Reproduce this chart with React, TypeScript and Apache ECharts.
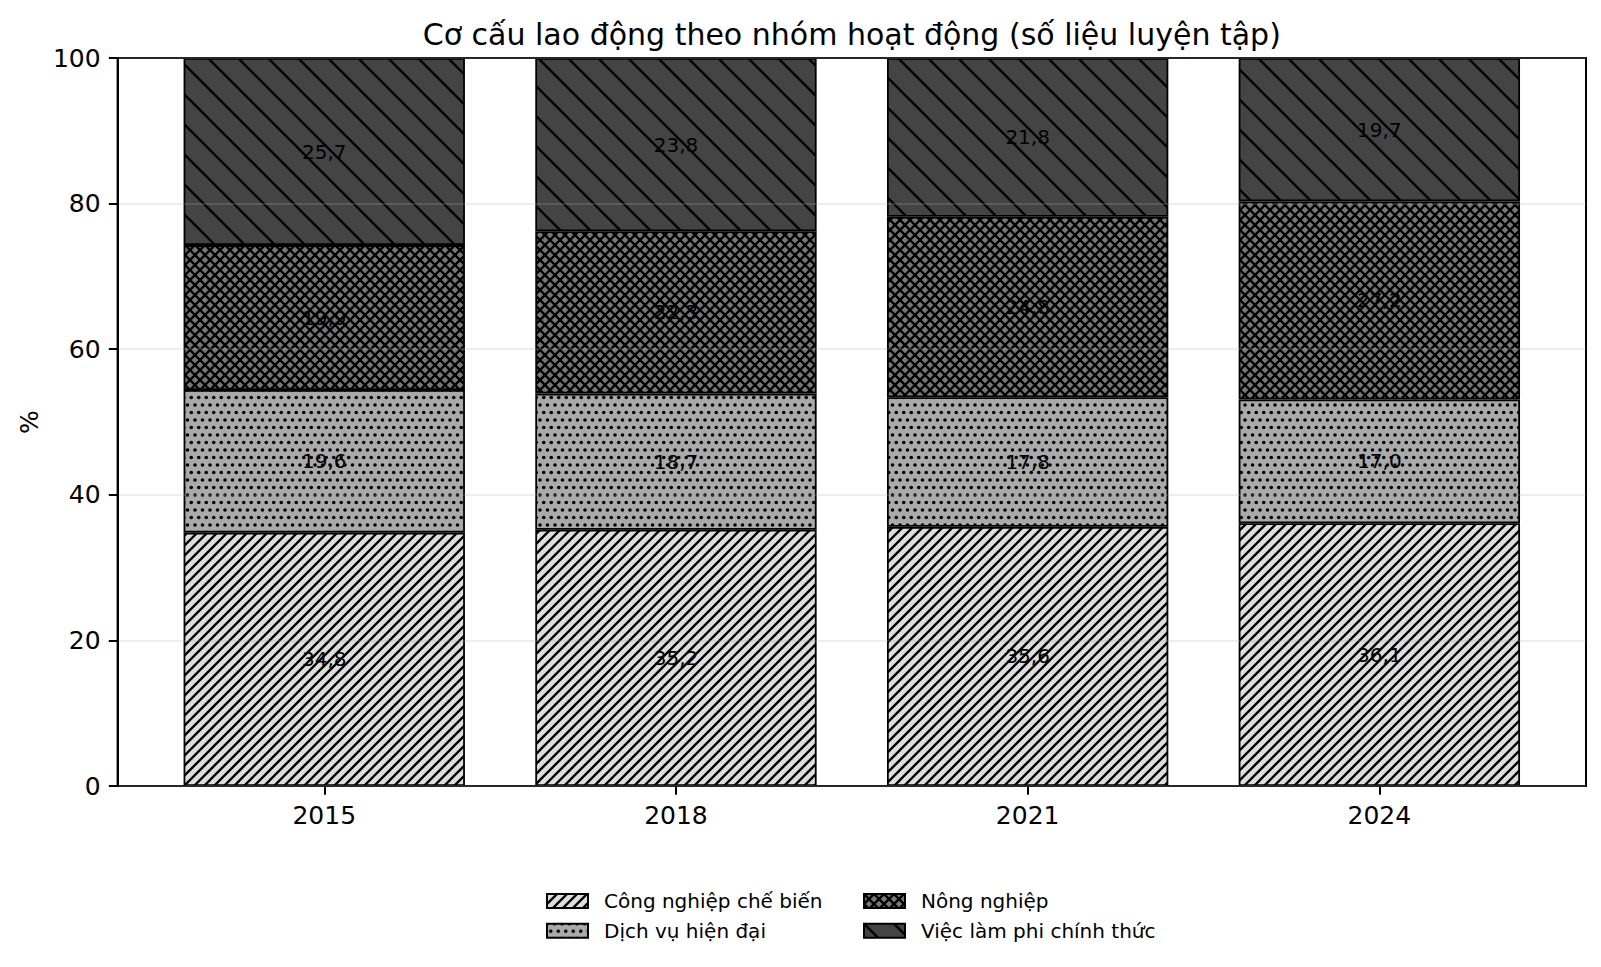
import React, { useRef, useEffect } from 'react';
import * as echarts from 'echarts';

const FONT = "'DejaVu Sans', sans-serif";

const title = 'Cơ cấu lao động theo nhóm hoạt động (số liệu luyện tập)';
const years = ['2015', '2018', '2021', '2024'];
const seriesNames = ['Công nghiệp chế biến', 'Dịch vụ hiện đại', 'Nông nghiệp', 'Việc làm phi chính thức'];
const congNghiep = [34.8, 35.2, 35.6, 36.1];
const dichVu = [19.6, 18.7, 17.8, 17.0];
const nongNghiep = [19.9, 22.3, 24.8, 27.2];
const phiChinhThuc = [25.7, 23.8, 21.8, 19.7];
const yTicks = [0, 20, 40, 60, 80, 100];

type Draw = (ctx: CanvasRenderingContext2D, size: number) => void;

// tile canvas used as a repeating pattern (hatch like matplotlib)
const makeTile = (size: number, bg: string, draw: Draw) => {
  const c = document.createElement('canvas');
  c.width = size;
  c.height = size;
  const ctx = c.getContext('2d')!;
  ctx.fillStyle = bg;
  ctx.fillRect(0, 0, size, size);
  ctx.strokeStyle = '#000';
  ctx.fillStyle = '#000';
  ctx.lineWidth = 2.3;
  draw(ctx, size);
  return { image: c, repeat: 'repeat', imageWidth: size, imageHeight: size };
};

// dir 1: "/" (x + y = c), dir -1: "\" (x - y = c)
const diagLines = (step: number, dir: number): Draw => (ctx, S) => {
  ctx.beginPath();
  for (let c = -2 * S; c <= 3 * S; c += step) {
    if (dir > 0) {
      ctx.moveTo(c + S, -S);
      ctx.lineTo(c - 2 * S, 2 * S);
    } else {
      ctx.moveTo(c - S, -S);
      ctx.lineTo(c + 2 * S, 2 * S);
    }
  }
  ctx.stroke();
};

const dots = (step: number, r: number): Draw => (ctx, S) => {
  const n = Math.round(S / step);
  for (let j = -1; j <= n; j++) {
    for (let i = -1; i <= n; i++) {
      const x = i * step + (Math.abs(j) % 2 ? step / 2 : 0);
      const y = j * step;
      ctx.beginPath();
      ctx.arc(x, y, r, 0, Math.PI * 2);
      ctx.fill();
    }
  }
};

const App: React.FC = () => {
  const chartRef = useRef<HTMLDivElement>(null);

  useEffect(() => {
    if (!chartRef.current) return;
    document.body.style.margin = '0';
    const chart = echarts.init(chartRef.current, undefined, { renderer: 'svg' });

    const patterns = [
      makeTile(30, '#dddddd', diagLines(10, 1)),
      makeTile(30, '#aaaaaa', dots(7.5, 1.8)),
      makeTile(30, '#777777', (ctx, S) => {
        diagLines(10, 1)(ctx, S);
        diagLines(10, -1)(ctx, S);
      }),
      makeTile(30, '#444444', diagLines(30, -1)),
    ];
    const seriesData = [congNghiep, dichVu, nongNghiep, phiChinhThuc];

    const legendCommon = {
      orient: 'vertical' as const,
      top: 886,
      icon: 'rect',
      itemWidth: 41,
      itemHeight: 14,
      itemGap: 9.7,
      selectedMode: false,
      itemStyle: { borderColor: '#000', borderWidth: 2 },
      textStyle: { fontSize: 20, fontFamily: FONT, color: '#000', lineHeight: 20, padding: [0, 0, 0, 11] },
    };

    const axisLineStyle = { color: '#000', width: 2 };

    const option: any = {
      animation: false,
      textStyle: { fontFamily: FONT },
      grid: [
        // bars: band width matches matplotlib's x margins
        { left: 148.4, right: 45.8, top: 58, bottom: 181 },
        // full plot frame, y axis and grid lines
        {
          left: 117.6,
          right: 15,
          top: 58,
          bottom: 181,
          show: true,
          borderColor: '#000',
          borderWidth: 2,
          backgroundColor: 'transparent',
        },
      ],
      graphic: [
        {
          type: 'text',
          x: 851.8,
          y: 34,
          style: { text: title, fill: '#000', fontSize: 30, fontFamily: FONT, align: 'center', verticalAlign: 'middle' },
        },
      ],
      legend: [
        { ...legendCommon, left: 541, data: [seriesNames[0], seriesNames[1]] },
        { ...legendCommon, left: 858, data: [seriesNames[2], seriesNames[3]] },
      ],
      xAxis: [
        {
          type: 'category',
          gridIndex: 0,
          data: years,
          axisLine: { show: false },
          axisTick: { show: true, alignWithLabel: true, length: 8.75, lineStyle: axisLineStyle },
          axisLabel: { fontSize: 25, fontFamily: FONT, color: '#000', margin: 17 },
          splitLine: { show: false },
        },
        { type: 'value', gridIndex: 1, show: false, min: 0, max: 1 },
      ],
      yAxis: [
        {
          type: 'value',
          gridIndex: 0,
          show: false,
          min: yTicks[0],
          max: yTicks[yTicks.length - 1],
          splitLine: { show: false },
        },
        {
          type: 'value',
          gridIndex: 1,
          min: yTicks[0],
          max: yTicks[yTicks.length - 1],
          interval: yTicks[1] - yTicks[0],
          z: 3,
          name: '%',
          nameLocation: 'middle',
          nameRotate: 90,
          nameGap: 76,
          nameTextStyle: { fontSize: 25, fontFamily: FONT, color: '#000' },
          axisLine: { show: true, onZero: false, lineStyle: axisLineStyle },
          axisTick: { show: true, length: 8.75, lineStyle: axisLineStyle },
          axisLabel: { fontSize: 25, fontFamily: FONT, color: '#000', margin: 17 },
          splitLine: { show: true, lineStyle: { color: 'rgba(176,176,176,0.3)', width: 1.5 } },
        },
      ],
      series: seriesData.map((vals, i) => ({
        name: seriesNames[i],
        type: 'bar',
        xAxisIndex: 0,
        yAxisIndex: 0,
        stack: 'total',
        barWidth: '80%',
        data: vals,
        itemStyle: { color: patterns[i], borderColor: '#000', borderWidth: 1.8 },
        label: {
          show: true,
          position: 'inside',
          formatter: (p: any) => Number(p.value).toFixed(1).replace('.', ','),
          fontSize: 20,
          fontFamily: FONT,
          color: '#000',
        },
      })),
    };

    chart.setOption(option);

    return () => {
      chart.dispose();
    };
  }, []);

  return <div ref={chartRef} style={{ position: 'absolute', left: 0, top: 0, width: 1601, height: 967 }} />;
};

export default App;
